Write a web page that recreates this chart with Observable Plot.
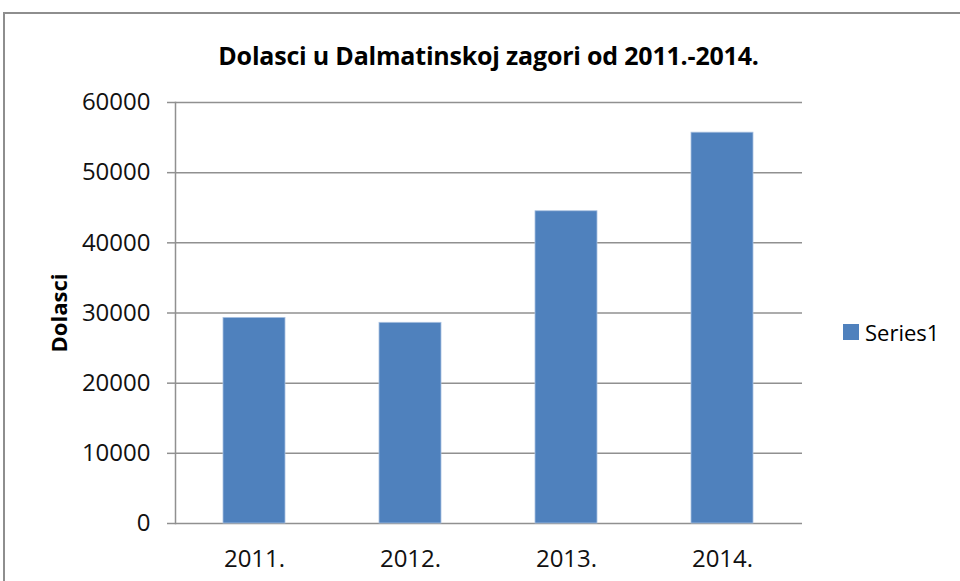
<!DOCTYPE html>
<html>
<head>
<meta charset="utf-8">
<script src="https://cdn.jsdelivr.net/npm/d3@7"></script>
<script src="https://cdn.jsdelivr.net/npm/@observablehq/plot@0.6"></script>
<style>
  html, body { margin: 0; padding: 0; background: #fff; }
  #wrap { position: relative; width: 960px; height: 581px; overflow: hidden; font-family: "Open Sans", "Noto Sans", sans-serif; color: #000; }
  #frame { position: absolute; left: 3px; top: 12px; width: 1100px; height: 800px; border: 2px solid #8e8e8e; box-sizing: border-box; }
  #chart { position: absolute; left: 0; top: 0; }
  #title { position: absolute; left: 0; width: 977px; top: 36px; text-align: center; font-weight: bold; font-size: 25px; line-height: 38px; white-space: nowrap; letter-spacing: -0.2px; }
  #ylabel { position: absolute; left: 58px; top: 313px; transform: translate(-50%, -50%) rotate(-90deg); font-weight: bold; font-size: 22px; white-space: nowrap; line-height: 24px; }
  #legend { position: absolute; left: 843px; top: 317px; display: flex; align-items: center; font-size: 22px; white-space: nowrap; }
  #legend .sw { width: 16px; height: 16px; background: #4F81BD; margin-right: 6px; }
</style>
</head>
<body>
<div id="wrap">
  <div id="frame"></div>
  <div id="chart"></div>
  <div id="title">Dolasci u Dalmatinskoj zagori od 2011.-2014.</div>
  <div id="ylabel">Dolasci</div>
  <div id="legend"><div class="sw"></div><span>Series1</span></div>
</div>
<script>
const years = ["2011.", "2012.", "2013.", "2014."];
const arrivals = [29300, 28600, 44500, 55700];
const yTicks = [0, 10000, 20000, 30000, 40000, 50000, 60000];
const seriesName = "Series1";

const data = years.map((y, i) => ({year: y, value: arrivals[i], series: seriesName}));

const chart = Plot.plot({
  width: 960,
  height: 581,
  marginLeft: 175,
  marginRight: 158,
  marginTop: 102,
  marginBottom: 58,
  style: { fontFamily: "'Open Sans', 'Noto Sans', sans-serif", background: "transparent", color: "#000" },
  x: { domain: years, paddingInner: 0.6, paddingOuter: 0.3 },
  y: { domain: [0, 60000] },
  marks: [
    Plot.ruleY(yTicks, { stroke: "#909090", strokeWidth: 1.5 }),
    Plot.barY(data, { x: "year", y: "value", fill: "#4F81BD", stroke: "#a9c1e0", strokeWidth: 0.8 }),
    Plot.frame({ anchor: "left", stroke: "#909090", strokeWidth: 1.5 }),
    Plot.axisY({ ticks: yTicks, tickFormat: d => String(d), tickSize: 8, tickPadding: 17, stroke: "#909090", strokeWidth: 1.5, fontSize: 24, fill: "#111", label: null }),
    Plot.axisX({ tickSize: 0, tickPadding: 26, fontSize: 24, fill: "#111", label: null })
  ]
});
document.getElementById("chart").appendChild(chart);
</script>
</body>
</html>
